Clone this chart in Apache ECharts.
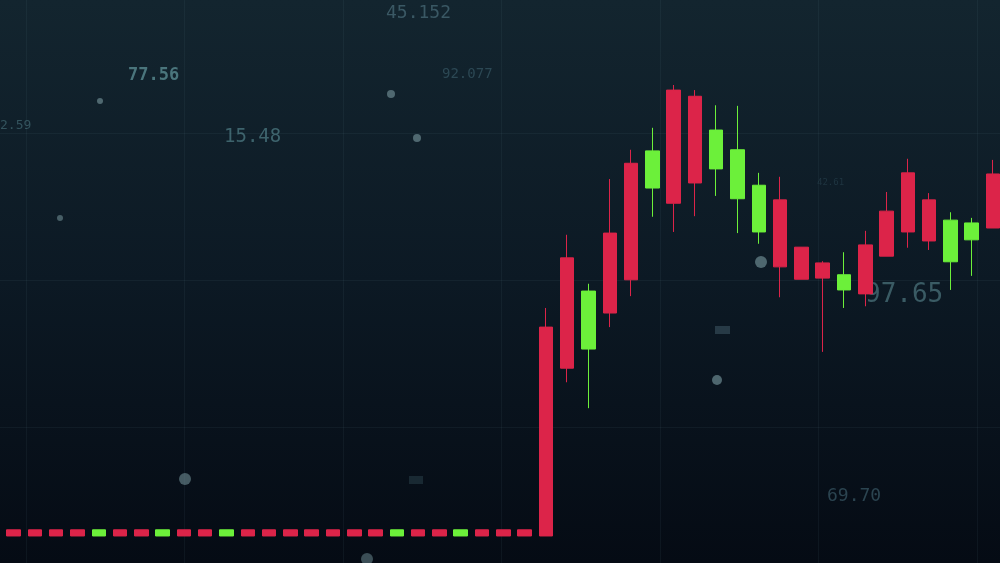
<!DOCTYPE html>
<html>
<head>
<meta charset="utf-8">
<script src="https://cdn.jsdelivr.net/npm/echarts@6/dist/echarts.min.js"></script>
<style>html,body{margin:0;padding:0;background:#0a1520;}#c{width:1000px;height:563px;}</style>
</head>
<body>
<div id="c"></div>
<script>
// 47 periods: 25 flat periods, then the breakout
const categories = Array.from({length: 47}, (_, i) => 'P' + (i + 1));
const opens  = [4.8,4.8,4.8,4.8,5.9,4.8,4.8,5.9,4.8,4.8,5.9,4.8,4.8,4.8,4.8,4.8,4.8,4.8,5.9,4.8,4.8,5.9,4.8,4.8,4.8,
                4.8,34.6,48.3,44.4,50.3,73.2,63.9,67.5,76.9,73.4,67.1,52.6,50.4,50.6,51.2,47.8,54.5,58.8,57.2,60.9,60.4,59.5];
const closes = [5.9,5.9,5.9,5.9,4.8,5.9,5.9,4.8,5.9,5.9,4.8,5.9,5.9,5.9,5.9,5.9,5.9,5.9,4.8,5.9,5.9,4.8,5.9,5.9,5.9,
                41.9,54.2,38.0,58.6,71.0,66.6,84.0,82.9,70.0,64.7,58.8,64.5,56.1,53.3,48.5,56.5,62.5,69.3,64.5,53.5,57.4,69.1];
const lows   = [4.8,4.8,4.8,4.8,4.8,4.8,4.8,4.8,4.8,4.8,4.8,4.8,4.8,4.8,4.8,4.8,4.8,4.8,4.8,4.8,4.8,4.8,4.8,4.8,4.8,
                4.8,32.1,27.5,41.9,47.4,61.5,58.8,61.6,65.2,58.6,56.7,47.2,50.4,37.5,45.3,45.6,54.5,56.0,55.6,48.5,51.0,59.5];
const highs  = [5.9,5.9,5.9,5.9,5.9,5.9,5.9,5.9,5.9,5.9,5.9,5.9,5.9,5.9,5.9,5.9,5.9,5.9,5.9,5.9,5.9,5.9,5.9,5.9,5.9,
                45.3,58.3,49.6,68.2,73.4,77.3,84.9,84.0,81.3,81.2,69.3,68.6,56.1,53.6,55.2,59.0,65.9,71.8,65.7,62.3,61.3,71.6];

const floatingLabels = ['45.152','77.56','92.077','2.59','15.48','42.61','97.65','69.70'];

const RED = '#dc2449', GREEN = '#6cf03a';
const GRIDLINE = 'rgba(110,150,170,0.08)';
const candleData = categories.map((_, i) => [opens[i], closes[i], lows[i], highs[i]]);

const chart = echarts.init(document.getElementById('c'), null, {renderer: 'canvas'});

function label(text, x, y, size, color, weight) {
  return {type: 'text', x: x, y: y, z: 0, silent: true,
    style: {text: text, fill: color, font: (weight || 'normal') + ' ' + size + 'px "DejaVu Sans Mono", monospace',
      textVerticalAlign: 'middle', verticalAlign: 'middle'}};
}
function dot(x, y, r, op) {
  return {type: 'circle', z: 0, silent: true, shape: {cx: x, cy: y, r: r}, style: {fill: '#5f7b82', opacity: op}};
}
const hidden = {axisLine: {show: false}, axisTick: {show: false}, axisLabel: {show: false}};

chart.setOption({
  animation: false,
  backgroundColor: {type: 'linear', x: 0, y: 0, x2: 0, y2: 1, colorStops: [
    {offset: 0, color: '#13252f'}, {offset: 0.5, color: '#0c1924'}, {offset: 1, color: '#050b14'}]},
  grid: [
    {left: 13.6, right: 7, top: 0, bottom: 0},
    {left: 26, width: 951, top: 0, height: 563},
    {left: 0, width: 1000, top: 133, height: 294}
  ],
  xAxis: [
    {type: 'category', data: categories, gridIndex: 0, show: false, boundaryGap: false},
    Object.assign({type: 'value', gridIndex: 1, min: 0, max: 6, interval: 1,
      splitLine: {show: true, lineStyle: {color: GRIDLINE, width: 1}}}, hidden),
    Object.assign({type: 'value', gridIndex: 2, min: 0, max: 1, splitLine: {show: false}}, hidden)
  ],
  yAxis: [
    {type: 'value', gridIndex: 0, min: 0, max: 100, show: false},
    Object.assign({type: 'value', gridIndex: 1, min: 0, max: 1, splitLine: {show: false}}, hidden),
    Object.assign({type: 'value', gridIndex: 2, min: 0, max: 2, interval: 1,
      splitLine: {show: true, lineStyle: {color: GRIDLINE, width: 1}}}, hidden)
  ],
  graphic: [
    label(floatingLabels[0], 386, 13, 18, '#3a5864'),
    label(floatingLabels[1], 128, 76, 17, '#4a757c', 'bold'),
    label(floatingLabels[2], 442, 74, 14, '#2c4854'),
    label(floatingLabels[3], 0, 126, 13, '#33535d'),
    label(floatingLabels[4], 224, 137, 19, '#3d636c'),
    label(floatingLabels[5], 817, 183, 9, '#1f3541'),
    label(floatingLabels[6], 865, 295, 26, '#3a5b64'),
    label(floatingLabels[7], 827, 496, 18, '#2b4450'),
    dot(100, 101, 3, 0.8), dot(391, 94, 4, 0.8), dot(417, 138, 4, 0.8), dot(60, 218, 3, 0.7),
    dot(761, 262, 6, 0.8), dot(717, 380, 5, 0.8), dot(185, 479, 6, 0.7), dot(367, 559, 6, 0.6),
    {type: 'rect', z: 0, silent: true, shape: {x: 715, y: 326, width: 15, height: 8}, style: {fill: '#2e4450', opacity: 0.8}},
    {type: 'rect', z: 0, silent: true, shape: {x: 409, y: 476, width: 14, height: 8}, style: {fill: '#1e2f3a', opacity: 0.8}}
  ],
  series: [{
    type: 'candlestick',
    xAxisIndex: 0, yAxisIndex: 0,
    z: 5,
    barWidth: 14,
    data: candleData,
    itemStyle: {color: RED, color0: GREEN, borderColor: RED, borderColor0: GREEN, borderWidth: 1}
  }]
});
</script>
</body>
</html>
